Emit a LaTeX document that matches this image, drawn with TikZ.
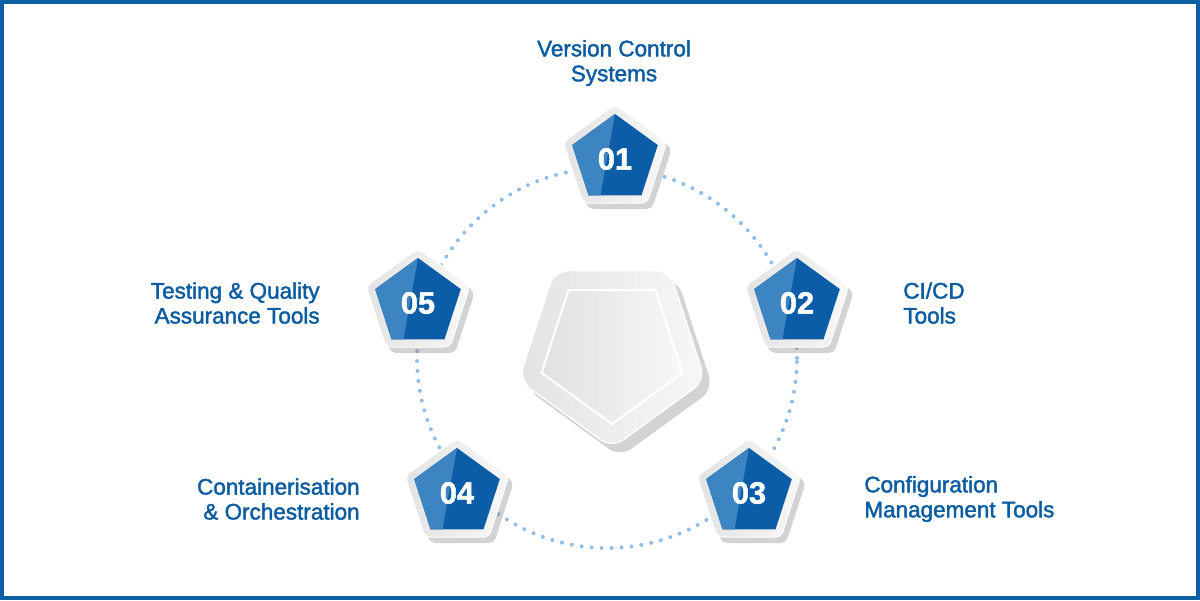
\documentclass[tikz,border=0pt]{standalone}
\usepackage{fontspec}
\setmainfont{Liberation Sans}
\newfontfamily\labelfont{Liberation Sans}[FakeBold=1.8]
\newfontfamily\numfont{Liberation Sans Bold}[FakeBold=1.5]
\usetikzlibrary{shapes.geometric,shadows,calc}
\definecolor{frameblue}{RGB}{14,94,164}
\definecolor{textblue}{RGB}{12,92,162}
\definecolor{darkblue}{RGB}{10,93,166}
\definecolor{lightblue}{RGB}{61,132,195}
\definecolor{dotblue}{RGB}{146,190,230}

\tikzset{
  rim/.style={regular polygon, regular polygon sides=5, minimum size=21.8mm, inner sep=0pt,
    left color=gray!22, right color=gray!6, draw=white, line width=0.6pt, rounded corners=3pt,
    drop shadow={shadow xshift=1mm, shadow yshift=-1.2mm, opacity=0.35}},
  badge/.style={regular polygon, regular polygon sides=5, minimum size=18mm, inner sep=0pt,
    fill=darkblue, text=white, font=\numfont\fontsize{17.5}{17.5}\selectfont,
    path picture={\fill[lightblue] (path picture bounding box.north)
      -- ($(path picture bounding box.south west)!0.618!(path picture bounding box.north west)$)
      -- ($(path picture bounding box.south west)!0.191!(path picture bounding box.south east)$)
      -- ($(path picture bounding box.south west)!0.33!(path picture bounding box.south east)$)
      -- cycle;}},
  topic/.style={text=textblue, inner sep=0pt, font=\labelfont\fontsize{12.8}{14.2}\selectfont},
  dotring/.style={dotblue, line width=0.8mm, line cap=round, dash pattern=on 0pt off 2mm}
}

\begin{document}
\begin{tikzpicture}[x=0.2mm, y=-0.2mm]
  \useasboundingbox (0,0) rectangle (1200,600);
  \draw[frameblue, line width=0.8mm] (2,2) rectangle (1198,598);

  % dotted ring
  \coordinate (ringc) at (607,358);
  \draw[dotring] (ringc) circle (38mm);

  % centre piece
  \node[regular polygon, regular polygon sides=5, shape border rotate=180, minimum size=39.2mm,
    inner sep=0pt, rounded corners=8pt, left color=gray!22, right color=gray!6, draw=white, line width=0.8pt,
    drop shadow={shadow xshift=1.6mm, shadow yshift=-1.8mm, opacity=0.35}] (hub) at (612,350) {};
  \node[regular polygon, regular polygon sides=5, shape border rotate=180, minimum size=29.6mm,
    inner sep=0pt, left color=gray!24, right color=gray!6, draw=white, line width=1.2pt] (face) at (612,350) {};

  % badges
  \node[rim] (r1) at (615,159) {};
  \node[badge] (n1) at (615,159) {01};
  \node[rim] (r2) at (797,303) {};
  \node[badge] (n2) at (797,303) {02};
  \node[rim] (r3) at (749,493) {};
  \node[badge] (n3) at (749,493) {03};
  \node[rim] (r4) at (457,493) {};
  \node[badge] (n4) at (457,493) {04};
  \node[rim] (r5) at (418,303) {};
  \node[badge] (n5) at (418,303) {05};

  % labels
  \node[topic, align=center] (t1) at (614,63) {Version Control\\Systems};
  \node[topic, align=left, anchor=west] (t2) at (903,303) {CI/CD\\Tools};
  \node[topic, align=left, anchor=west] (t3) at (864,499) {Configuration\\Management Tools};
  \node[topic, align=right, anchor=east] (t4) at (360,499) {Containerisation\\\& Orchestration};
  \node[topic, align=right, anchor=east] (t5) at (320,303) {Testing \& Quality\\Assurance Tools};
\end{tikzpicture}
\end{document}
